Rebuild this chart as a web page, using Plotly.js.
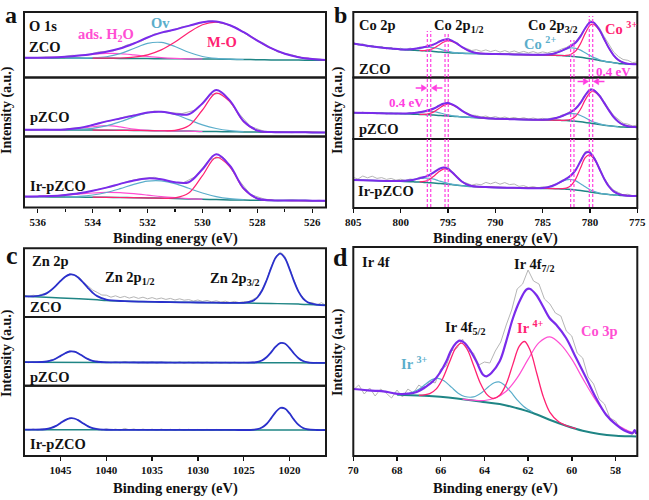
<!DOCTYPE html>
<html>
<head>
<meta charset="utf-8">
<script src="https://cdn.plot.ly/plotly-3.0.1.min.js"></script>
<style>html,body{margin:0;padding:0;background:#fff;}#chart{width:649px;height:500px;}</style>
</head>
<body>
<div id="chart"></div>
<script>
// ===== Panel a : O 1s =====
const aX = [536.5, 536, 535.5, 535, 534.5, 534, 533.5, 533, 532.5, 532, 531.5, 531, 530.5, 530, 529.5, 529, 528.5, 528, 527.5, 527, 526.5, 526, 525.5];
const aRawX = [536.5, 536.25, 535.75, 535.25, 534.75, 534.25, 533.75, 533.25, 532.75, 532.25, 531.75, 531.25, 530.75, 530.25, 529.75, 529.25, 528.75, 528.25, 527.75, 527.25, 526.75, 526.25, 525.75, 525.5];
const aH2OX = [536.5, 536, 535.5, 535, 534.5, 534, 533.5, 533, 532.5, 532, 531.5, 531, 530.5, 530];
const aOvX = [535, 534.5, 534, 533.5, 533, 532.5, 532, 531.5, 531, 530.5, 530, 529.5, 529, 528.5];
const aMOX = [534, 533.5, 533, 532.5, 532, 531.5, 531, 530.5, 530, 529.5, 529, 528.5, 528, 527.5, 527, 526.5, 526, 525.5];

const aZcoRaw = [20.3, 19.4, 20.6, 20.0, 22.2, 22.0, 25.8, 26.5, 32.5, 36.0, 43.6, 45.8, 50.6, 53.0, 56.8, 54.0, 49.8, 40.2, 34.0, 25.4, 22.8, 18.6, 18.5, 17.3];
const aZcoBase = [19.8, 19.7, 19.6, 19.5, 19.4, 19.3, 19.2, 19.1, 19.0, 18.9, 18.8, 18.7, 18.6, 18.5, 18.4, 18.2, 18.0, 17.8, 17.6, 17.5, 17.4, 17.3, 17.2];
const aZcoEnv = [19.83, 19.83, 20.04, 20.73, 21.9, 23.6, 25.75, 28.98, 34.03, 40.05, 44.84, 48.05, 51.6, 55.3, 56.07, 52.3, 45.3, 36.9, 29.3, 23.7, 20.3, 18.5, 17.6];
const aZcoH2O = [19.83, 19.83, 20.04, 20.68, 21.83, 23.2, 24.1, 23.88, 22.63, 21.05, 19.79, 19.05, 18.7, 18.5];
const aZcoOv = [19.5, 19.45, 19.66, 20.75, 23.8, 29.0, 34.1, 35.05, 31.0, 25.2, 21.0, 19.07, 18.3, 18.0];
const aZcoMO = [19.35, 19.3, 19.5, 20.4, 22.7, 27.6, 35.4, 44.9, 52.8, 55.4, 52.2, 45.3, 36.9, 29.3, 23.7, 20.3, 18.5, 17.6];

const aPzRaw = [7.2, 6.4, 7.3, 6.6, 8.3, 9.6, 13.8, 16.2, 20.3, 22.0, 25.5, 24.0, 22.9, 26.5, 41.5, 43.8, 25.5, 10.0, 5.2, 4.9, 3.8, 4.6, 4.2, 3.9];
const aPzBase = [6.8, 6.75, 6.7, 6.6, 6.5, 6.4, 6.3, 6.2, 6.05, 5.9, 5.75, 5.6, 5.4, 5.0, 4.9, 4.7, 4.6, 4.4, 4.3, 4.2, 4.15, 4.1, 4.0];
const aPzEnv = [6.8, 6.75, 6.74, 7.07, 8.46, 11.5, 15.1, 18.05, 21.0, 24.0, 24.8, 22.6, 22.2, 33.1, 46.4, 35.9, 15.2, 6.0, 4.44, 4.2, 4.15, 4.1, 4.0];
const aPzH2O = [6.8, 6.75, 6.74, 6.91, 7.88, 9.75, 10.8, 9.55, 7.43, 6.21, 5.79, 5.6, 5.4, 5.0];
const aPzOv = [6.76, 7.08, 8.16, 10.6, 14.7, 19.65, 23.7, 24.65, 22.0, 16.9, 11.6, 8.0, 5.9, 4.96];
const aPzMO = [6.4, 6.3, 6.2, 6.05, 5.9, 5.77, 6.17, 10.7, 26.5, 43.3, 34.7, 14.8, 5.9, 4.35, 4.2, 4.15, 4.1, 4.0];

const aIrRaw = [11.4, 10.5, 11.8, 11.6, 13.9, 14.8, 18.6, 21.0, 26.0, 28.9, 30.2, 26.1, 24.0, 31.0, 48.0, 50.5, 30.0, 13.0, 8.5, 6.6, 7.6, 6.4, 7.2, 6.7];
const aIrBase = [10.8, 10.7, 10.6, 10.5, 10.4, 10.3, 10.2, 10.0, 9.8, 9.6, 9.3, 9.0, 8.6, 8.2, 7.9, 7.6, 7.4, 7.2, 7.1, 7.0, 6.9, 6.85, 6.8];
const aIrEnv = [10.94, 11.1, 11.53, 12.6, 14.2, 16.7, 19.9, 23.6, 27.1, 29.1, 28.2, 25.3, 25.3, 38.3, 53.2, 41.8, 19.1, 9.0, 7.2, 7.0, 6.9, 6.85, 6.8];
const aIrH2O = [10.94, 11.1, 11.53, 12.34, 13.4, 14.5, 15.13, 14.84, 13.8, 12.4, 10.9, 9.8, 8.93, 8.32];
const aIrOv = [10.75, 11.21, 12.5, 15.0, 18.8, 23.1, 26.3, 26.6, 23.9, 19.2, 14.45, 10.9, 8.8, 7.8];
const aIrMO = [10.3, 10.2, 10.0, 9.8, 9.6, 9.3, 9.62, 14.4, 31.9, 50.2, 40.6, 18.7, 8.9, 7.2, 7.0, 6.9, 6.85, 6.8];

// ===== Panel b : Co 2p =====
const bX = [805, 803, 801, 800, 799, 798.5, 798, 797.5, 797, 796.5, 796, 795.5, 795, 794.5, 794, 793.5, 793, 792.5, 792, 791, 790, 788, 786, 785, 784, 783.5, 783, 782.5, 782, 781.5, 781, 780.5, 780, 779.7, 779.5, 779, 778.5, 778, 777.5, 777, 776.5, 776, 775];
const bCo3X = [798, 797.5, 797, 796.5, 796, 795.5, 795, 794.5, 794, 793.5, 793, 792.5, 792, 791, 790, 788, 786, 785, 784, 783, 782.5, 782, 781.5, 781, 780.5, 780, 779.7, 779.5, 779, 778.5, 778, 777.5, 777, 776.5, 776, 775];
const bCo2X = [800, 799, 798.5, 798, 797.5, 797, 796.5, 796, 795.5, 795, 794.5, 794, 793, 790, 786, 785, 784, 783.5, 783, 782.5, 782, 781.5, 781, 780.5, 780, 779.7, 779.5, 779, 778.5, 778, 777];
const bRawX = [805, 804.5, 804, 803.5, 803, 802.5, 802, 801.5, 801, 800.5, 800, 799.5, 799, 798.5, 798, 797.5, 797, 796.5, 796, 795.5, 795, 794.5, 794, 793.5, 793, 792.5, 792, 791.5, 791, 790.5, 790, 789.5, 789, 788.5, 788, 787.5, 787, 786.5, 786, 785.5, 785, 784.5, 784, 783.5, 783, 782.5, 782, 781.5, 781, 780.5, 780, 779.5, 779, 778.5, 778, 777.5, 777, 776.5, 776, 775.5, 775];

const bZcoRaw = [35.0, 32.4, 33.8, 30.6, 32.2, 29.8, 31.0, 28.6, 30.1, 27.9, 29.3, 27.5, 29.4, 28.2, 30.5, 29.8, 32.6, 32.4, 36.6, 37.0, 39.6, 36.0, 34.9, 30.0, 29.0, 27.0, 27.8, 26.2, 27.6, 25.9, 27.2, 25.4, 26.9, 25.2, 26.6, 24.8, 26.1, 24.6, 25.9, 24.3, 25.6, 24.6, 26.0, 26.3, 28.5, 30.0, 33.0, 36.0, 42.5, 50.3, 57.0, 55.0, 49.5, 41.0, 32.5, 25.5, 21.0, 18.0, 17.2, 14.8, 15.6];
const bZcoBase = [34, 31, 29, 28, 27.5, 27.3, 27, 26.7, 26.4, 26, 25.6, 25.2, 24.9, 24.6, 24.4, 24.2, 24.1, 24, 23.9, 23.7, 23.5, 23.1, 22.7, 22.5, 22.3, 22.1, 21.9, 21.6, 21.3, 20.8, 20.2, 19.5, 18.8, 18.3, 18, 17.1, 16.2, 15.4, 14.7, 14.1, 13.7, 13.4, 13.2];
const bZcoEnv = [34, 31, 29, 28.1, 28.2, 28.8, 29.4, 30.4, 31.5, 33.1, 35.4, 37.5, 38.2, 36.4, 33.7, 30.3, 27.7, 25.75, 24.6, 23.8, 23.5, 23.1, 22.7, 22.7, 23.6, 24.9, 26.7, 28.85, 31.4, 35.0, 41.1, 49.3, 55.2, 55.4, 54.1, 47.7, 38.5, 29.4, 22.2, 17.5, 15.0, 13.8, 13.2];
const bZcoCo3 = [27.0, 27.0, 27.6, 29.2, 32.2, 35.3, 36.9, 35.8, 33.4, 30.3, 27.7, 25.75, 24.6, 23.8, 23.5, 23.1, 22.7, 22.5, 22.3, 22.0, 22.05, 23.2, 26.6, 33.9, 44.1, 52.1, 53.3, 52.5, 47.0, 38.3, 29.3, 22.2, 17.5, 15.0, 13.8, 13.2];
const bZcoCo2 = [28.1, 28.2, 28.8, 29.4, 30.1, 30.3, 29.9, 28.8, 27.4, 26.2, 25.2, 24.66, 24.1, 23.5, 22.7, 22.7, 23.6, 24.9, 26.6, 28.4, 29.5, 29.2, 27.4, 24.7, 21.9, 20.4, 19.6, 17.8, 16.4, 15.5, 14.1];

const bPzRaw = [27.2, 25.6, 26.9, 25.4, 26.6, 25.2, 26.5, 25.0, 26.2, 24.9, 25.9, 25.0, 26.4, 25.6, 27.4, 27.0, 29.6, 30.0, 33.8, 35.0, 37.2, 34.0, 32.4, 27.6, 26.3, 23.8, 23.6, 22.0, 23.0, 21.2, 22.4, 20.9, 22.0, 20.6, 21.6, 20.2, 21.3, 19.9, 21.0, 19.8, 20.7, 19.8, 21.2, 21.0, 23.8, 25.2, 28.3, 30.8, 37.2, 44.5, 50.4, 48.8, 44.6, 36.8, 30.2, 23.6, 19.2, 15.8, 14.9, 13.0, 14.0];
const bPzBase = [26.3, 26, 25.6, 25.3, 25, 24.8, 24.6, 24.4, 24.2, 23.9, 23.6, 23.3, 23.0, 22.7, 22.4, 22.1, 21.8, 21.5, 21.2, 20.7, 20.3, 19.7, 19.3, 19.1, 18.9, 18.8, 18.6, 18.4, 18.1, 17.7, 17.2, 16.6, 15.9, 15.5, 15.2, 14.5, 13.8, 13.2, 12.7, 12.3, 12.0, 11.8, 11.7];
const bPzEnv = [26.3, 26.0, 25.6, 25.4, 25.65, 26.1, 26.7, 27.7, 28.8, 30.5, 33.0, 35.3, 36.1, 34.4, 31.6, 28.2, 25.4, 23.25, 21.9, 20.8, 20.3, 19.7, 19.3, 19.3, 20.05, 21.3, 22.8, 24.8, 27.0, 30.4, 36.05, 43.7, 49.0, 49.35, 48.3, 43.3, 36.1, 28.65, 22.0, 17.3, 14.3, 12.8, 11.8];
const bPzCo3 = [24.6, 24.7, 25.4, 27.1, 30.2, 33.4, 35.0, 33.9, 31.4, 28.2, 25.4, 23.25, 21.9, 20.8, 20.3, 19.7, 19.3, 19.1, 18.9, 18.7, 18.8, 19.8, 23.0, 29.7, 39.1, 46.3, 47.5, 46.9, 42.7, 35.9, 28.6, 22.0, 17.3, 14.3, 12.8, 11.8];
const bPzCo2 = [25.4, 25.65, 26.1, 26.7, 27.4, 27.6, 27.3, 26.4, 25.2, 24.1, 23.2, 22.6, 21.8, 20.3, 19.3, 19.3, 20.05, 21.3, 22.75, 24.4, 25.3, 25.1, 23.55, 21.2, 18.6, 17.35, 16.6, 15.1, 14.0, 13.25, 12.3];

const bIrX = [805, 803, 801, 800, 799, 798.5, 798, 797.5, 797, 796.5, 796, 795.5, 795.3, 795, 794.5, 794, 793.5, 793, 792.5, 792, 791, 790, 788, 786, 785, 784, 783.5, 783, 782.5, 782, 781.5, 781, 780.5, 780.1, 780, 779.5, 779, 778.5, 778, 777.5, 777, 776.5, 776, 775];
const bIrCo3X = [798, 797.5, 797, 796.5, 796, 795.5, 795.3, 795, 794.5, 794, 793.5, 793, 792.5, 792, 791, 790, 788, 786, 785, 784, 783, 782.5, 782, 781.5, 781, 780.5, 780.1, 780, 779.5, 779, 778.5, 778, 777.5, 777, 776.5, 776, 775];
const bIrCo2X = [800, 799, 798.5, 798, 797.5, 797, 796.5, 796, 795.5, 795, 794.5, 794, 793, 790, 786, 785, 784, 783.5, 783, 782.5, 782, 781.5, 781, 780.5, 780, 779.5, 779, 778.5, 778, 777];
const bIrRaw = [30.5, 29.0, 32.0, 30.2, 31.8, 29.6, 30.4, 28.6, 29.6, 27.8, 28.8, 27.6, 29.0, 28.4, 30.8, 30.4, 33.6, 34.8, 39.8, 40.0, 41.2, 35.6, 31.8, 26.4, 24.8, 22.9, 24.0, 23.2, 25.6, 24.2, 25.8, 23.8, 25.4, 23.4, 24.0, 21.6, 22.4, 20.6, 21.4, 20.2, 21.2, 20.6, 22.8, 23.6, 27.6, 29.0, 33.8, 38.4, 47.8, 56.4, 57.2, 50.0, 40.6, 29.8, 23.0, 17.8, 15.6, 13.2, 13.8, 12.4, 12.8];
const bIrBase = [28, 27.5, 27, 26.7, 26.3, 26.1, 25.9, 25.6, 25.3, 25, 24.6, 24.2, 24.05, 23.8, 23.3, 22.8, 22.3, 21.8, 21.5, 21.2, 20.9, 20.6, 20.2, 19.8, 19.6, 19.4, 19.25, 19.1, 18.8, 18.5, 18.1, 17.5, 16.8, 16.2, 16.0, 15.3, 14.6, 14.0, 13.5, 13.1, 12.7, 12.4, 12.2, 12.0];
const bIrEnv = [28, 27.5, 27, 27.0, 27.8, 28.6, 29.8, 31.0, 32.7, 35.6, 38.7, 40.55, 40.35, 39.1, 35.2, 30.4, 26.2, 23.5, 22.1, 21.4, 20.9, 20.6, 20.2, 19.85, 20.05, 22.0, 24.05, 26.6, 29.3, 32.5, 38.1, 46.7, 54.7, 55.85, 55.2, 49.05, 39.2, 29.3, 21.5, 16.6, 14.1, 12.8, 12.3, 12.0];
const bIrCo3 = [26.2, 26.6, 28.3, 31.8, 36.0, 38.9, 39.05, 38.3, 34.8, 30.3, 26.2, 23.5, 22.1, 21.4, 20.9, 20.6, 20.2, 19.8, 19.6, 19.4, 19.3, 19.86, 22.5, 29.1, 39.9, 50.3, 53.2, 52.9, 48.0, 38.8, 29.2, 21.5, 16.6, 14.1, 12.8, 12.3, 12.0];
const bIrCo2 = [27.0, 27.8, 28.6, 29.5, 29.96, 29.74, 28.8, 27.3, 25.85, 24.64, 23.66, 22.93, 21.8, 20.6, 19.85, 20.05, 22.0, 24.05, 26.4, 28.2, 28.5, 27.1, 24.3, 21.2, 18.3, 16.35, 15.0, 14.13, 13.5, 12.7];
const bShiftLines = [797.18, 796.82, 795.31, 794.97, 782.04, 781.69, 780.07, 779.71];

// ===== Panel c : Zn 2p =====
const cX = [1049, 1048, 1047, 1046.5, 1046, 1045.5, 1045, 1044.5, 1044, 1043.5, 1043, 1042.5, 1042, 1041.5, 1041, 1040, 1038, 1036, 1034, 1032, 1030, 1028, 1026, 1025, 1024, 1023.5, 1023, 1022.5, 1022, 1021.5, 1021, 1020.5, 1020, 1019.5, 1019, 1018.5, 1018, 1017, 1016];
const cRawX = [1049, 1048.5, 1048, 1047.5, 1047, 1046.5, 1046, 1045.5, 1045, 1044.5, 1044, 1043.5, 1043, 1042.5, 1042, 1041.5, 1041, 1040.5, 1040, 1039.5, 1039, 1038.5, 1038, 1037.5, 1037, 1036.5, 1036, 1035.5, 1035, 1034.5, 1034, 1033.5, 1033, 1032.5, 1032, 1031.5, 1031, 1030.5, 1030, 1029.5, 1029, 1028.5, 1028, 1027.5, 1027, 1026.5, 1026, 1025.5, 1025, 1024.5, 1024, 1023.5, 1023, 1022.5, 1022, 1021.5, 1021, 1020.5, 1020, 1019.5, 1019, 1018.5, 1018, 1017.5, 1017, 1016.5, 1016];
const cZcoBaseX = [1049, 1046, 1043, 1041, 1040, 1038, 1034, 1030, 1026, 1022, 1019, 1018, 1016];
const cZcoBase = [20.7, 19.5, 18.2, 17.2, 16.5, 15.8, 15.0, 14.5, 14.1, 13.5, 12.9, 12.6, 11.7];
const cBaseX = [1049, 1040, 1030, 1024, 1020, 1016];
const cPzBase = [23.5, 23.3, 23.1, 23.0, 22.9, 22.8];
const cIrBase = [26.3, 26.25, 26.1, 26.0, 26.0, 26.0];
const cZcoEnv = [20.7, 20.66, 22.0, 23.9, 27.1, 31.4, 36.1, 40.3, 42.5, 42.0, 38.8, 34.1, 28.9, 24.3, 20.9, 17.3, 15.8, 15.3, 15.0, 14.7, 14.5, 14.3, 14.1, 14.2, 16.1, 19.5, 26.2, 36.5, 48.8, 59.2, 63.3, 59.0, 48.4, 35.9, 25.4, 18.4, 14.8, 12.4, 11.7];
const cPzEnv = [23.5, 23.5, 23.7, 24.2, 25.25, 27.2, 29.85, 32.5, 34.2, 34.0, 32.0, 29.2, 26.6, 24.9, 23.95, 23.34, 23.26, 23.22, 23.18, 23.14, 23.1, 23.07, 23.03, 23.02, 23.19, 23.7, 25.2, 28.4, 33.4, 39.0, 42.6, 42.2, 37.9, 32.2, 27.5, 24.7, 23.4, 22.8, 22.8];
const cIrEnv = [26.3, 26.3, 26.5, 27.0, 28.1, 30.1, 33.0, 35.9, 37.7, 37.5, 35.4, 32.4, 29.6, 27.8, 26.8, 26.25, 26.2, 26.2, 26.15, 26.1, 26.1, 26.05, 26.05, 26.0, 26.2, 26.8, 28.5, 32.0, 37.6, 43.9, 48.0, 47.5, 42.8, 36.4, 31.1, 28.0, 26.6, 26.0, 26.0];
const cZcoRaw = [21.5, 20.2, 21.8, 21.0, 23.0, 23.2, 28.0, 30.6, 37.0, 39.6, 43.4, 41.4, 40.0, 34.8, 30.6, 27.0, 24.6, 22.0, 21.8, 19.8, 21.2, 19.4, 20.6, 18.9, 20.2, 18.6, 19.8, 18.2, 19.4, 17.9, 19.0, 17.6, 18.6, 17.0, 18.2, 16.8, 17.4, 16.0, 17.0, 15.6, 16.6, 15.2, 16.2, 15.0, 15.8, 14.6, 15.6, 14.4, 15.4, 15.2, 17.4, 20.2, 27.4, 37.0, 50.0, 60.4, 65.0, 60.8, 49.0, 37.2, 25.0, 19.6, 14.2, 14.6, 12.0, 14.4, 11.4];
const cPzRaw = [24.0, 23.0, 24.1, 23.2, 24.3, 23.8, 25.9, 26.8, 30.4, 32.0, 34.8, 33.6, 32.6, 28.8, 27.2, 24.5, 24.6, 23.0, 24.0, 22.9, 23.9, 22.8, 24.2, 23.0, 23.8, 22.7, 23.7, 22.8, 23.9, 22.6, 23.7, 22.7, 23.6, 22.6, 23.8, 22.5, 23.6, 22.6, 23.5, 22.5, 23.6, 22.4, 23.5, 22.6, 23.4, 22.5, 23.5, 22.6, 23.4, 22.8, 23.8, 23.4, 25.8, 28.0, 34.0, 38.6, 43.4, 41.8, 38.6, 31.6, 28.0, 24.2, 23.9, 22.6, 23.3, 22.4, 23.1];
const cIrRaw = [26.8, 25.8, 27.0, 26.0, 27.2, 26.6, 28.8, 29.6, 33.8, 35.2, 38.4, 37.0, 36.0, 31.8, 30.2, 27.4, 27.6, 26.0, 27.1, 26.0, 26.9, 25.8, 27.6, 26.2, 27.0, 25.8, 26.9, 25.9, 26.8, 25.7, 26.9, 25.8, 26.7, 25.7, 26.8, 25.6, 26.7, 25.7, 26.6, 25.6, 26.7, 25.5, 26.6, 25.7, 26.5, 25.6, 26.5, 25.7, 26.4, 25.9, 26.9, 26.4, 29.2, 31.6, 38.4, 43.4, 48.8, 47.0, 43.6, 35.8, 31.6, 27.6, 27.1, 25.8, 26.4, 25.6, 26.2];

// ===== Panel d : Ir 4f =====
const dEnvX = [70, 69.5, 69, 68.63, 68.2, 67.87, 67.5, 67.1, 66.65, 66.35, 66.04, 65.74, 65.58, 65.36, 65.13, 64.9, 64.67, 64.37, 64.06, 63.9, 63.68, 63.3, 63.0, 62.69, 62.39, 62.08, 61.93, 61.63, 61.32, 61.02, 60.71, 60.26, 59.8, 59.34, 58.89, 58.43, 57.97, 57.52, 57.22, 57.12, 57.05];
const dEnv = [67, 66, 65.2, 64.7, 63, 62, 62.3, 64, 69.7, 74.7, 83, 94.7, 103, 111.3, 115.3, 113, 106.3, 94.7, 81.3, 79.7, 83, 94.7, 114.7, 138, 154.7, 166.3, 167.3, 161.3, 149.7, 138, 131.3, 118, 98, 78, 58, 41.3, 31.3, 24.7, 23, 26, 22];
const dBaseX = [68, 67.87, 66.35, 64.82, 64.06, 63.3, 62.54, 61.78, 61.02, 60.26, 59.5, 58.74, 57.97, 57.29, 57.05];
const dBase = [61.6, 61.3, 59.7, 56.3, 54, 52, 48, 43, 36.3, 30.3, 25.3, 22, 20.3, 19.7, 19.6];
const dIr3X = [67.5, 67, 66.7, 66.4, 66.12, 65.85, 65.5, 65.2, 64.9, 64.5, 64.1, 63.8, 63.55, 63.33, 63.1, 62.8, 62.5, 62.2, 61.8];
const dIr3 = [62.2, 66.7, 71.7, 76.35, 77.7, 75.3, 68.6, 62.85, 59.5, 59.1, 63.8, 69.5, 73.3, 74.1, 71.3, 64.3, 56.1, 49.5, 44.0];
const dIr4X = [67, 66.5, 66.2, 65.9, 65.6, 65.3, 65.05, 64.8, 64.5, 64.2, 63.9, 63.6, 63.3, 63.0, 62.7, 62.4, 62.16, 61.9, 61.6, 61.3, 61.0, 60.6, 60.2, 59.8];
const dIr4 = [60.6, 62.4, 67.15, 77.8, 93.7, 108.35, 112.8, 107.25, 91.0, 73.5, 61.9, 57.5, 60.7, 72.0, 91.4, 109.8, 114.5, 105.5, 82.5, 59.1, 43.6, 34.2, 30.0, 27.3];
const dCoX = [65, 64.5, 64, 63.5, 63, 62.5, 62, 61.5, 61, 60.5, 60, 59.5, 59, 58.5, 58, 57.5, 57.2];
const dCo = [56.85, 55.74, 55.5, 58.0, 64.8, 78.1, 96.6, 113.4, 119.1, 111.4, 96.8, 77.6, 59.1, 43.6, 32.5, 25.9, 23.4];
const dRawX = [70, 69.75, 69.5, 69.25, 69, 68.75, 68.5, 68.25, 68, 67.75, 67.5, 67.25, 67, 66.75, 66.5, 66.25, 66, 65.75, 65.5, 65.25, 65, 64.75, 64.5, 64.25, 64, 63.75, 63.5, 63.25, 63, 62.75, 62.5, 62.25, 62, 61.75, 61.5, 61.25, 61, 60.75, 60.5, 60.25, 60, 59.75, 59.5, 59.25, 59, 58.75, 58.5, 58.25, 58, 57.75, 57.5, 57.25, 57.1];
const dRaw = [66, 71, 62, 68, 60, 67, 63, 58, 66, 59, 67, 63, 71, 67, 75, 73, 87, 90, 105, 108, 117, 105, 103, 91, 94, 93, 105, 114, 131, 146, 167, 172, 186, 175, 172, 157, 152, 143, 140, 125, 120, 103, 98, 79, 72, 57, 52, 38, 35, 27, 26, 21, 24];

// ===== styling =====
const W = 649, H = 500;
const COL = {env: '#7A2BEB', envC: '#2A30CC', base: '#1F8585', red: '#FF2272', blue: '#5BAECB', pink: '#FF4FD3', raw: '#B5B5B5', mag: '#FF3DE0', ink: '#111111'};
const FONT = 'Liberation Serif, Times New Roman, serif';
const traces = [];
function add(x, y, xa, ya, color, width, shape) {
  traces.push({type: 'scatter', mode: 'lines', x: x, y: y, xaxis: xa, yaxis: ya,
    line: {color: color, width: width, shape: shape || 'spline', smoothing: 1},
    hoverinfo: 'skip', showlegend: false});
}
// panel a
[['y', aZcoRaw, aZcoBase, aZcoH2O, aZcoOv, aZcoMO, aZcoEnv],
 ['y2', aPzRaw, aPzBase, aPzH2O, aPzOv, aPzMO, aPzEnv],
 ['y3', aIrRaw, aIrBase, aIrH2O, aIrOv, aIrMO, aIrEnv]].forEach(s => {
  add(aRawX, s[1], 'x', s[0], COL.raw, 1, 'linear');
  add(aX, s[2], 'x', s[0], COL.base, 1.5);
  add(aH2OX, s[3], 'x', s[0], COL.pink, 1.2);
  add(aOvX, s[4], 'x', s[0], COL.blue, 1.2);
  add(aMOX, s[5], 'x', s[0], COL.red, 1.2);
  add(aX, s[6], 'x', s[0], COL.env, 2);
});
// panel b
[['y4', bX, bZcoRaw, bZcoBase, bCo3X, bZcoCo3, bCo2X, bZcoCo2, bZcoEnv],
 ['y5', bX, bPzRaw, bPzBase, bCo3X, bPzCo3, bCo2X, bPzCo2, bPzEnv],
 ['y6', bIrX, bIrRaw, bIrBase, bIrCo3X, bIrCo3, bIrCo2X, bIrCo2, bIrEnv]].forEach(s => {
  add(bRawX, s[2], 'x2', s[0], COL.raw, 1, 'linear');
  add(s[1], s[3], 'x2', s[0], COL.base, 1.5);
  add(s[6], s[7], 'x2', s[0], COL.blue, 1.2);
  add(s[4], s[5], 'x2', s[0], COL.red, 1.2);
  add(s[1], s[8], 'x2', s[0], COL.env, 2);
});
// panel c
[['y7', cZcoRaw, cZcoBaseX, cZcoBase, cZcoEnv],
 ['y8', cPzRaw, cBaseX, cPzBase, cPzEnv],
 ['y9', cIrRaw, cBaseX, cIrBase, cIrEnv]].forEach(s => {
  add(cRawX, s[1], 'x3', s[0], COL.raw, 1, 'linear');
  add(s[2], s[3], 'x3', s[0], COL.base, 1.5);
  add(cX, s[4], 'x3', s[0], COL.envC, 1.8);
});
// panel d
add(dRawX, dRaw, 'x4', 'y10', COL.raw, 1, 'linear');
add(dBaseX, dBase, 'x4', 'y10', COL.base, 2);
add(dIr3X, dIr3, 'x4', 'y10', COL.blue, 1.2);
add(dCoX, dCo, 'x4', 'y10', COL.pink, 1.2);
add(dIr4X, dIr4, 'x4', 'y10', COL.red, 1.3);
add(dEnvX, dEnv, 'x4', 'y10', COL.env, 2.2);

function yax(top, bottom, anchor, h) {
  return {domain: [1 - bottom / H, 1 - top / H], range: [0, h], anchor: anchor, visible: false, fixedrange: true};
}
function xax(l, r, anchor, range, dtick, minor) {
  const o = {domain: [l / W, r / W], anchor: anchor, range: range, dtick: dtick, tick0: 0,
    ticks: 'outside', ticklen: 4, tickwidth: 1.5, tickcolor: COL.ink, showgrid: false, zeroline: false,
    showline: false, fixedrange: true,
    tickfont: {family: FONT, size: 11, color: COL.ink, weight: 'bold'}};
  if (minor) o.minor = {dtick: minor, ticks: 'outside', ticklen: 3, tickwidth: 1.2, tickcolor: COL.ink, showgrid: false};
  return o;
}
const shapes = [];
[['x', 'y'], ['x', 'y2'], ['x', 'y3'], ['x2', 'y4'], ['x2', 'y5'], ['x2', 'y6'],
 ['x3', 'y7'], ['x3', 'y8'], ['x3', 'y9'], ['x4', 'y10']].forEach(p => {
  shapes.push({type: 'rect', xref: p[0] + ' domain', yref: p[1] + ' domain', x0: 0, x1: 1, y0: 0, y1: 1,
    line: {color: '#1a1a1a', width: 2}, layer: 'above'});
});
const dashTops = [31, 31, 33, 33, 40, 40, 16, 16];
bShiftLines.forEach((v, i) => {
  shapes.push({type: 'line', xref: 'x2', yref: 'paper', x0: v, x1: v, y0: 1 - 207 / H, y1: 1 - dashTops[i] / H,
    line: {color: COL.mag, width: 1.2, dash: '3px,2px'}, layer: 'above'});
});
// shift arrows in panel b: [head position, y pixel, direction(+1 = points right on screen)]
[[797.25, 88, 1], [796.75, 88, -1], [780.15, 81.5, 1], [779.63, 81.5, -1]].forEach(a => {
  const yv = 1 - a[1] / H, head = 0.55, len = 1.16;
  shapes.push({type: 'line', xref: 'x2', yref: 'paper', x0: a[0] + a[2] * head, x1: a[0] + a[2] * len, y0: yv, y1: yv,
    line: {color: COL.mag, width: 1.6}, layer: 'above'});
  shapes.push({type: 'path', xref: 'x2', yref: 'paper', layer: 'above',
    path: 'M ' + a[0] + ',' + yv + ' L ' + (a[0] + a[2] * head) + ',' + (yv + 0.0065) + ' L ' + (a[0] + a[2] * head) + ',' + (yv - 0.0065) + ' Z',
    fillcolor: COL.mag, line: {color: COL.mag, width: 0.5}});
});

const ann = [];
function txt(t, x, y, o) {
  o = o || {};
  ann.push({text: t, x: x / W, y: 1 - y / H, xref: 'paper', yref: 'paper', showarrow: false,
    xanchor: o.xa || 'center', yanchor: 'middle', textangle: o.ang || 0,
    font: {family: FONT, size: o.size || 14.5, color: o.color || COL.ink}});
}
// panel letters
txt('<b>a</b>', 11, 15, {size: 24});
txt('<b>b</b>', 340, 15, {size: 24});
txt('<b>c</b>', 12, 255, {size: 26});
txt('<b>d</b>', 340, 257, {size: 26});
// axis titles
[[175, 238], [495, 238], [175, 488], [495, 488]].forEach(p => txt('<b>Binding energy (eV)</b>', p[0], p[1], {size: 14.5}));
[[7, 110], [338, 110], [7, 353], [338, 352]].forEach(p => txt('<b>Intensity (a.u.)</b>', p[0], p[1], {size: 14, ang: -90}));
// panel a labels
txt('<b>O 1s</b>', 27, 26, {xa: 'left'});
txt('<b>ZCO</b>', 27, 47, {xa: 'left'});
txt('<b>ads. H<sub>2</sub>O</b>', 106, 35, {color: COL.pink});
txt('<b>Ov</b>', 160, 23, {color: COL.blue});
txt('<b>M-O</b>', 222, 42, {color: COL.red});
txt('<b>pZCO</b>', 28, 117, {xa: 'left'});
txt('<b>Ir-pZCO</b>', 28, 186, {xa: 'left'});
// panel b labels
txt('<b>Co 2p</b>', 357, 25, {xa: 'left'});
txt('<b>Co 2p<sub>1/2</sub></b>', 459, 26);
txt('<b>Co 2p<sub>3/2</sub></b>', 553, 26);
txt('<b>Co <sup>3+</sup></b>', 621, 28, {color: COL.red});
txt('<b>Co <sup>2+</sup></b>', 540, 43, {color: COL.blue});
txt('<b>ZCO</b>', 357, 69, {xa: 'left'});
txt('<b>0.4 eV</b>', 613, 71, {color: COL.mag, size: 13});
txt('<b>0.4 eV</b>', 406, 103, {color: COL.mag, size: 13});
txt('<b>pZCO</b>', 357, 129, {xa: 'left'});
txt('<b>Ir-pZCO</b>', 356, 191, {xa: 'left'});
// panel c labels
txt('<b>Zn 2p</b>', 30, 261, {xa: 'left'});
txt('<b>Zn 2p<sub>1/2</sub></b>', 130, 278);
txt('<b>Zn 2p<sub>3/2</sub></b>', 235, 279);
txt('<b>ZCO</b>', 28, 307, {xa: 'left'});
txt('<b>pZCO</b>', 28, 377, {xa: 'left'});
txt('<b>Ir-pZCO</b>', 28, 444, {xa: 'left'});
// panel d labels
txt('<b>Ir 4f</b>', 360, 262, {xa: 'left'});
txt('<b>Ir 4f<sub>7/2</sub></b>', 534, 265);
txt('<b>Ir 4f<sub>5/2</sub></b>', 465, 328);
txt('<b>Ir <sup>4+</sup></b>', 530, 327, {color: COL.red});
txt('<b>Co 3p</b>', 599, 331, {color: COL.pink});
txt('<b>Ir <sup>3+</sup></b>', 415, 363, {color: COL.blue});

const layout = {
  width: W, height: H, margin: {l: 0, r: 0, t: 0, b: 0}, paper_bgcolor: '#ffffff', plot_bgcolor: '#ffffff',
  showlegend: false, font: {family: FONT, color: COL.ink},
  xaxis: xax(24, 326, 'y3', [536.5, 525.5], 2, 1),
  xaxis2: xax(353.3, 637.3, 'y6', [805, 775], 5),
  xaxis3: xax(24, 326, 'y9', [1049, 1016], 5),
  xaxis4: xax(353.3, 637.3, 'y10', [70, 57], 2),
  yaxis: yax(12, 77.5, 'x', 65.5),
  yaxis2: yax(77.5, 136.5, 'x', 59),
  yaxis3: yax(136.5, 207.5, 'x', 71),
  yaxis4: yax(12, 77.5, 'x2', 65.5),
  yaxis5: yax(77.5, 139, 'x2', 61.5),
  yaxis6: yax(139, 208, 'x2', 69),
  yaxis7: yax(248.3, 317, 'x3', 68.7),
  yaxis8: yax(317, 385.7, 'x3', 68.7),
  yaxis9: yax(385.7, 456, 'x3', 70.3),
  yaxis10: yax(247, 456, 'x4', 209),
  shapes: shapes, annotations: ann
};
Plotly.newPlot('chart', traces, layout, {displayModeBar: false, staticPlot: true});
</script>
</body>
</html>
